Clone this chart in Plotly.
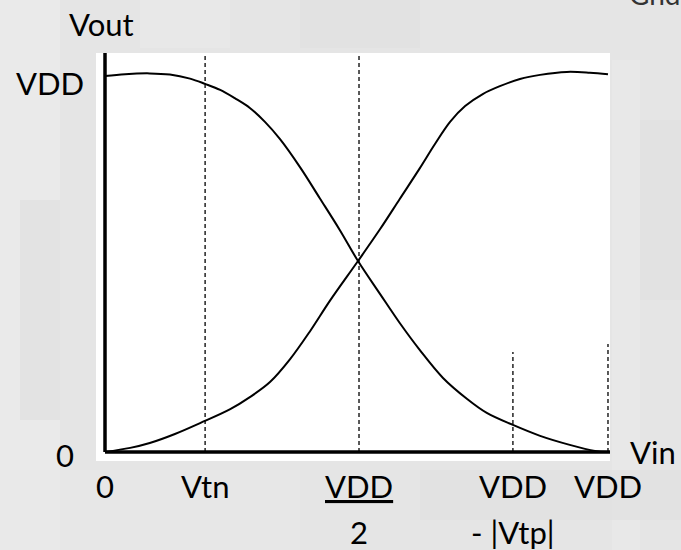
import plotly.graph_objects as go

# CMOS inverter transfer characteristic, voltages normalised to VDD = 1
vin_fall = [0.000, 0.040, 0.089, 0.129, 0.169, 0.199, 0.229, 0.258, 0.288, 0.318,
            0.348, 0.388, 0.427, 0.467, 0.503, 0.547, 0.586, 0.626, 0.672, 0.720,
            0.759, 0.811, 0.865, 0.924, 0.974, 1.000]
vout_fall = [1.000, 1.005, 1.007, 1.004, 0.993, 0.979, 0.963, 0.941, 0.915, 0.878,
             0.832, 0.757, 0.675, 0.590, 0.508, 0.420, 0.343, 0.271, 0.197, 0.141,
             0.104, 0.072, 0.043, 0.019, 0.003, 0.000]

vin_rise = [0.000, 0.050, 0.089, 0.139, 0.189, 0.249, 0.288, 0.328, 0.368, 0.408,
            0.447, 0.503, 0.547, 0.586, 0.626, 0.656, 0.686, 0.716, 0.751, 0.785,
            0.825, 0.865, 0.918, 0.964, 1.000]
vout_rise = [0.000, 0.011, 0.024, 0.048, 0.077, 0.114, 0.146, 0.186, 0.247, 0.322,
             0.402, 0.508, 0.593, 0.673, 0.755, 0.819, 0.878, 0.920, 0.952, 0.973,
             0.992, 1.003, 1.011, 1.009, 1.005]

# Characteristic input voltages and the height of their guide lines
guide_x = [0.199, 0.505, 0.811, 1.0]
guide_top = [1.061, 1.061, 0.266, 0.287]

x_tick_vals = [0.0, 0.199, 0.505, 0.811, 1.0]
x_tick_top = ["0", "Vtn", "<u>VDD</u>", "VDD", "VDD"]
x_tick_bottom = ["", "", "2", "- |Vtp|", ""]
y_tick_vals = [0.0, 1.0]
y_tick_text = ["0", "VDD"]

W, H = 681, 550
L, R, T, B = 96, 71, 53, 89
PW, PH = W - L - R, H - T - B
X_RANGE = [-0.0179, 1.0040]
Y_RANGE = [-0.0239, 1.0612]

FONT = "Lato, 'Open Sans', sans-serif"


def px(p):
    return (p - L) / PW


def py(p):
    return (H - B - p) / PH


fig = go.Figure()

# faint mottled backdrop
bands = [(0, 0, 60, 550, "#ececec"), (140, 0, 230, 48, "#eaeaea"),
         (300, 0, 420, 48, "#e0e0e0"), (612, 60, 640, 550, "#e9e9e9"),
         (640, 120, 681, 300, "#dfdfdf"), (0, 470, 300, 550, "#e8e8e8"),
         (420, 470, 681, 520, "#e0e0e0"), (20, 200, 60, 420, "#dedede")]
for x0, y0, x1, y1, c in bands:
    fig.add_shape(type="rect", xref="paper", yref="paper",
                  x0=px(x0), x1=px(x1), y0=py(y1), y1=py(y0),
                  fillcolor=c, line_width=0, layer="below", opacity=0.6)

# guide lines
for gx, gt in zip(guide_x, guide_top):
    fig.add_trace(go.Scatter(x=[gx, gx], y=[0, gt], mode="lines",
                             line=dict(color="black", width=1.3, dash="4px,3px"),
                             hoverinfo="skip", showlegend=False))

# transfer curves
for xs, ys in ((vin_fall, vout_fall), (vin_rise, vout_rise)):
    fig.add_trace(go.Scatter(x=xs, y=ys, mode="lines",
                             line=dict(color="black", width=2, shape="spline", smoothing=1.0),
                             hoverinfo="skip", showlegend=False))

# heavy axes through the origin
fig.add_trace(go.Scatter(x=[0, 0], y=[0, Y_RANGE[1]], mode="lines",
                         line=dict(color="black", width=3.5), showlegend=False, hoverinfo="skip"))
fig.add_trace(go.Scatter(x=[0, X_RANGE[1]], y=[0, 0], mode="lines",
                         line=dict(color="black", width=3.5), showlegend=False, hoverinfo="skip"))

ann = []
fs = 31
# x-axis labels
for xv, t1, t2 in zip(x_tick_vals, x_tick_top, x_tick_bottom):
    ann.append(dict(x=xv, y=py(486), xref="x", yref="paper", text=t1,
                    showarrow=False, xanchor="center", yanchor="middle"))
    if t2:
        ann.append(dict(x=xv, y=py(532), xref="x", yref="paper", text=t2,
                        showarrow=False, xanchor="center", yanchor="middle"))
# y-axis labels
ann.append(dict(x=px(65), y=y_tick_vals[0], xref="paper", yref="y", yshift=-3,
                text=y_tick_text[0], showarrow=False, xanchor="center", yanchor="middle"))
ann.append(dict(x=px(50), y=y_tick_vals[1], xref="paper", yref="y", yshift=-7,
                text=y_tick_text[1], showarrow=False, xanchor="center", yanchor="middle"))
# axis names
ann.append(dict(x=px(101), y=py(24), xref="paper", yref="paper", text="Vout",
                showarrow=False, xanchor="center", yanchor="middle"))
ann.append(dict(x=px(653), y=py(452), xref="paper", yref="paper", text="Vin",
                showarrow=False, xanchor="center", yanchor="middle"))
ann.append(dict(x=px(627), y=py(13), xref="paper", yref="paper", text="Gnd",
                showarrow=False, xanchor="left", yanchor="bottom",
                font=dict(color="#333", size=28)))

for a in ann:
    a.setdefault("font", dict(color="black", size=fs))
    a["font"].setdefault("family", FONT)

fig.update_layout(
    width=W, height=H,
    margin=dict(l=L, r=R, t=T, b=B, pad=0),
    paper_bgcolor="#e5e5e5",
    plot_bgcolor="white",
    annotations=ann,
    xaxis=dict(range=X_RANGE, visible=False, fixedrange=True),
    yaxis=dict(range=Y_RANGE, visible=False, fixedrange=True),
    font=dict(family=FONT, color="black"),
)

fig.write_html("out.html")
